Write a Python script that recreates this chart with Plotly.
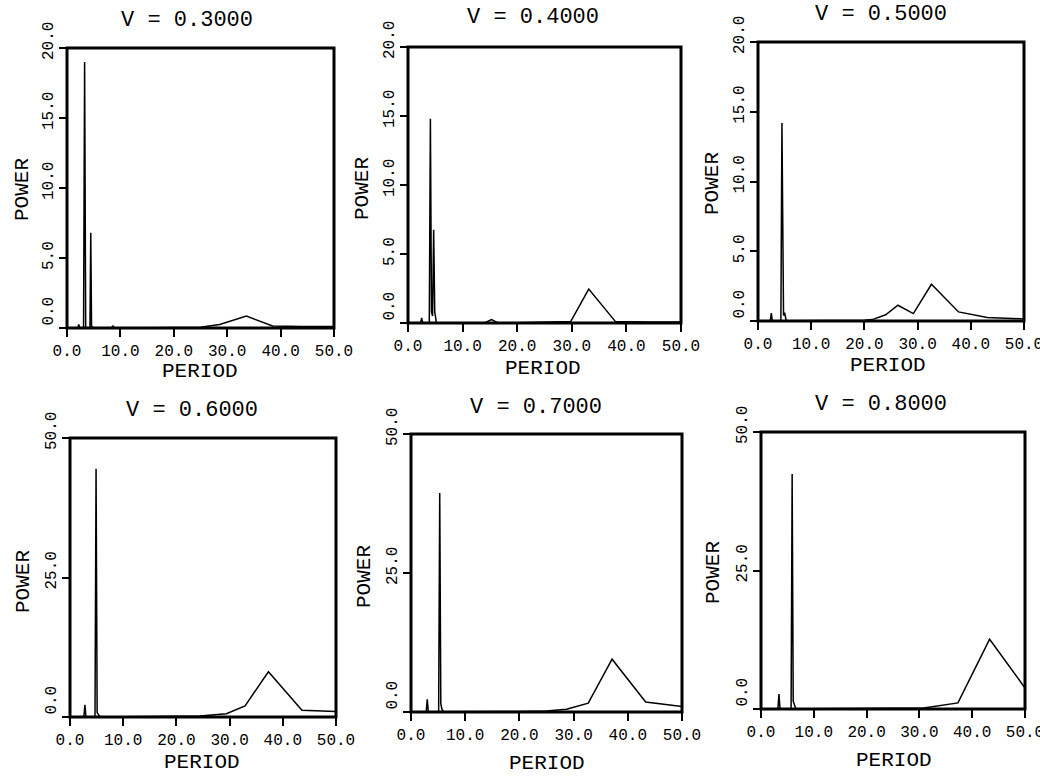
import plotly.graph_objects as go

# ---------------- data ----------------
titles = ["V = 0.3000", "V = 0.4000", "V = 0.5000",
          "V = 0.6000", "V = 0.7000", "V = 0.8000"]

period_03 = [0, 2.0, 2.2, 2.4, 3.1, 3.3, 3.5, 4.3, 4.45, 4.6, 5.0, 8.3, 8.6, 8.9, 15, 20, 25, 28.6, 33.6, 38.5, 44, 50]
power_03 = [0, 0, 0.25, 0, 0, 19.0, 0, 0, 6.8, 0.1, 0.02, 0, 0.15, 0, 0.02, 0.03, 0.06, 0.25, 0.85, 0.15, 0.1, 0.1]

period_04 = [0, 2.3, 2.5, 2.7, 3.9, 4.1, 4.3, 4.5, 4.7, 4.9, 5.2, 14, 15.3, 16.5, 20, 25, 29.8, 33.1, 38.0, 44, 50]
power_04 = [0, 0, 0.36, 0, 0, 14.8, 0.8, 0.5, 6.75, 0.8, 0.02, 0, 0.24, 0, 0.02, 0.05, 0.1, 2.46, 0.1, 0.08, 0.08]

period_05 = [0, 2.3, 2.5, 2.7, 4.3, 4.5, 4.8, 5.0, 5.3, 10, 15, 20, 21.5, 24.0, 26.3, 29.2, 32.6, 37.7, 43.1, 50]
power_05 = [0, 0, 0.57, 0, 0, 14.2, 0.4, 0.6, 0.02, 0.02, 0.03, 0.05, 0.1, 0.45, 1.13, 0.53, 2.63, 0.65, 0.25, 0.15]

period_06 = [0, 2.6, 2.8, 3.0, 4.7, 4.9, 5.1, 5.3, 5.6, 10, 20, 24.4, 29.4, 32.9, 37.3, 43.6, 50]
power_06 = [0, 0, 2.2, 0, 0, 44.5, 0.8, 0.5, 0.05, 0.05, 0.1, 0.2, 0.6, 2.0, 8.1, 1.2, 1.0]

period_07 = [0, 2.8, 3.0, 3.2, 5.1, 5.3, 5.5, 5.7, 6.0, 10, 20, 25, 28.7, 32.7, 37.1, 43.3, 50]
power_07 = [0, 0, 2.3, 0, 0, 39.4, 1.5, 0.5, 0.05, 0.05, 0.1, 0.2, 0.5, 1.6, 9.5, 1.8, 1.0]

period_08 = [0, 3.2, 3.4, 3.6, 5.7, 5.9, 6.1, 6.3, 6.6, 10, 20, 30.8, 37.3, 43.3, 50]
power_08 = [0, 0, 2.7, 0, 0, 42.4, 1.4, 0.8, 0.05, 0.05, 0.1, 0.2, 1.1, 12.6, 3.8]

x_ticks = [0, 10, 20, 30, 40, 50]
x_tick_labels = ["0.0", "10.0", "20.0", "30.0", "40.0", "50.0"]
y_ticks_top = [0, 5, 10, 15, 20]
y_tick_labels_top = ["0.0", "5.0", "10.0", "15.0", "20.0"]
y_ticks_bottom = [0, 25, 50]
y_tick_labels_bottom = ["0.0", "25.0", "50.0"]
y_max_top = 20
y_max_bottom = 50

periods = [period_03, period_04, period_05, period_06, period_07, period_08]
powers = [power_03, power_04, power_05, power_06, power_07, power_08]

# ---------------- layout (pixel boxes on a 1040x776 page) ----------------
W, H = 1040, 776
# (left, right, top, bottom) in pixels
boxes = [
    (67, 334, 48, 328), (408, 681, 47, 323), (758, 1024, 42, 321),
    (70, 336, 438, 717), (411, 682, 434, 712), (761, 1025, 432, 709),
]
title_pos = [(187, 20), (533, 17), (881, 14), (192, 410), (536, 407), (881, 404)]
xtitle_pos = [(200, 371), (543, 368), (888, 365), (202, 762), (547, 763), (894, 760)]
ytitle_pos = [(22, 190), (362, 189), (712, 184), (23, 582), (364, 577), (713, 573)]

NB = "\u00a0"


def shift_label(t):
    # rotated y labels in the reference sit slightly above their ticks
    if t == "0.0":
        return NB * 3 + t
    if t == "5.0":
        return t
    return NB + t


FONT = "Liberation Mono"
fig = go.Figure()
annotations = []
shapes = []
for i in range(6):
    n = "" if i == 0 else str(i + 1)
    l, r, t, b = boxes[i]
    top_row = i < 3
    fig.add_trace(go.Scatter(
        x=periods[i], y=powers[i], mode="lines",
        line=dict(color="black", width=1.5),
        xaxis="x" + n, yaxis="y" + n, showlegend=False, hoverinfo="x+y"))
    fig.layout["xaxis" + n] = dict(
        domain=[l / W, r / W], anchor="y" + n, range=[0, 50], automargin=False,
        tickvals=x_ticks, ticktext=x_tick_labels, ticklabeloverflow="allow",
        showgrid=False, zeroline=False, showline=False,
        ticks="outside", ticklen=8, tickwidth=2, tickcolor="black",
        tickfont=dict(family=FONT, size=16, color="black"))
    ylabels = y_tick_labels_top if top_row else y_tick_labels_bottom
    fig.layout["yaxis" + n] = dict(
        domain=[1 - b / H, 1 - t / H], anchor="x" + n, automargin=False,
        range=[0, y_max_top if top_row else y_max_bottom],
        tickvals=y_ticks_top if top_row else y_ticks_bottom,
        ticktext=[shift_label(s) for s in ylabels], ticklabeloverflow="allow",
        showgrid=False, zeroline=False, showline=False,
        ticks="outside", ticklen=7, tickwidth=2, tickcolor="black", tickangle=-90,
        tickfont=dict(family=FONT, size=16, color="black"))
    # plot frame (thick box round each panel)
    shapes.append(dict(type="rect", xref="x" + n + " domain", yref="y" + n + " domain",
                       x0=0, x1=1, y0=0, y1=1, line=dict(color="black", width=3),
                       fillcolor="rgba(0,0,0,0)", layer="above"))
    tx, ty = title_pos[i]
    annotations.append(dict(text=titles[i], x=tx / W, y=1 - ty / H, xref="paper", yref="paper",
                            showarrow=False, xanchor="center", yanchor="middle",
                            font=dict(family=FONT, size=22, color="black")))
    px, py = xtitle_pos[i]
    annotations.append(dict(text="PERIOD", x=px / W, y=1 - py / H, xref="paper", yref="paper",
                            showarrow=False, xanchor="center", yanchor="middle",
                            font=dict(family=FONT, size=21, color="black")))
    qx, qy = ytitle_pos[i]
    annotations.append(dict(text="POWER", x=qx / W, y=1 - qy / H, xref="paper", yref="paper",
                            showarrow=False, xanchor="center", yanchor="middle", textangle=-90,
                            font=dict(family=FONT, size=21, color="black")))

fig.update_layout(template="none", width=W, height=H, margin=dict(l=0, r=0, t=0, b=0, pad=0),
                  paper_bgcolor="white", plot_bgcolor="white",
                  annotations=annotations, shapes=shapes, showlegend=False)
fig.write_html("out.html", config={"displayModeBar": False},
               post_script="document.body.style.margin='0';document.body.style.padding='0';"
                           "document.body.style.overflow='hidden';")
